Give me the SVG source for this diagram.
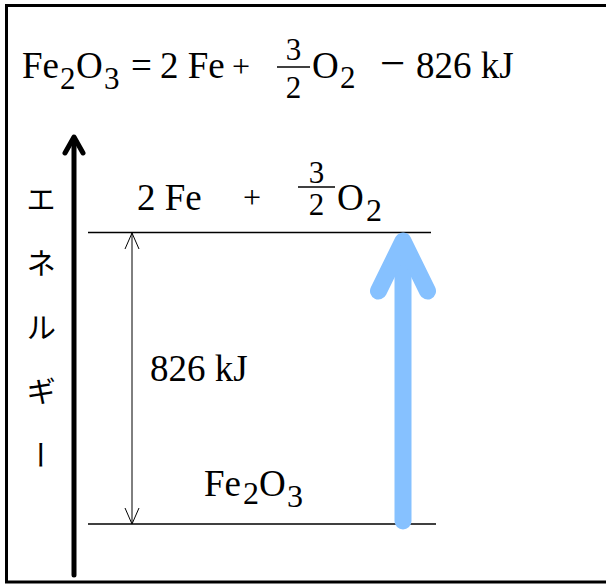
<svg xmlns="http://www.w3.org/2000/svg" width="606" height="584" viewBox="0 0 606 584">
<style>
.t{font-family:"Liberation Serif","Times New Roman",serif;fill:#000}
.lvl{stroke:#000;stroke-width:1.3;fill:none}
.thin{stroke:#000;stroke-width:1;fill:none}
.jp{font-family:"Noto Sans CJK JP","Noto Sans",sans-serif;font-size:30px;fill:#000}
</style>
<rect x="0" y="0" width="606" height="584" fill="#fff"/>
<rect x="6.5" y="5.5" width="640" height="576.5" fill="none" stroke="#000" stroke-width="3"/>

<g id="equation">
<text class="t" font-size="37" y="78"><tspan x="22">Fe</tspan><tspan x="60" y="89" font-size="31">2</tspan><tspan x="76" y="78">O</tspan><tspan x="104" y="89" font-size="31">3</tspan><tspan x="131" y="78">=</tspan><tspan x="160">2 Fe</tspan><tspan x="232" y="77" font-size="32">+</tspan></text>
<text class="t" font-size="31" x="293.5" y="60" text-anchor="middle">3</text>
<line x1="277" y1="67" x2="310" y2="67" stroke="#000" stroke-width="1.5"/>
<text class="t" font-size="31" x="293.5" y="98" text-anchor="middle">2</text>
<text class="t" font-size="37" y="78"><tspan x="312">O</tspan><tspan x="340" y="88" font-size="31">2</tspan><tspan x="380" y="78" font-size="45">−</tspan><tspan x="416" font-size="37">826 kJ</tspan></text>
</g>

<g id="energy-axis">
<line x1="74" y1="575" x2="74" y2="138" stroke="#000" stroke-width="5" stroke-linecap="round"/>
<polyline points="65,153 74,137 83,153" fill="none" stroke="#000" stroke-width="5" stroke-linecap="round" stroke-linejoin="round"/>
<text class="jp" x="41" y="184" writing-mode="vertical-rl" style="letter-spacing:34px">エネルギー</text>
</g>

<g id="upper-level">
<line class="lvl" x1="88" y1="232.5" x2="431" y2="232.5"/>
<text class="t" font-size="37" y="210"><tspan x="137">2 Fe</tspan><tspan x="243" y="208" font-size="32">+</tspan></text>
<text class="t" font-size="31" x="316.5" y="183" text-anchor="middle">3</text>
<line x1="298" y1="187" x2="335" y2="187" stroke="#000" stroke-width="1.5"/>
<text class="t" font-size="31" x="316.5" y="215" text-anchor="middle">2</text>
<text class="t" font-size="37" y="210"><tspan x="337">O</tspan><tspan x="366" y="221" font-size="32">2</tspan></text>
</g>

<g id="lower-level">
<line class="lvl" x1="88" y1="524" x2="436" y2="524"/>
<text class="t" font-size="37" y="496"><tspan x="204">Fe</tspan><tspan x="243" y="504" font-size="32">2</tspan><tspan x="259" y="496">O</tspan><tspan x="287" y="507" font-size="32">3</tspan></text>
</g>

<g id="connectors">
<line class="thin" x1="132" y1="233" x2="132" y2="524"/>
<polyline class="thin" points="125,249 132,233 139,249"/>
<polyline class="thin" points="125,508 132,524 139,508"/>
<g stroke="#86C1FF" stroke-width="17" stroke-linecap="round" stroke-linejoin="round" fill="none">
<line x1="403" y1="521" x2="403" y2="245"/>
<polyline points="378.5,291 403,241 427.5,291"/>
</g>
</g>

<g id="delta-label">
<text class="t" font-size="37" x="150" y="381">826 kJ</text>
</g>
</svg>
